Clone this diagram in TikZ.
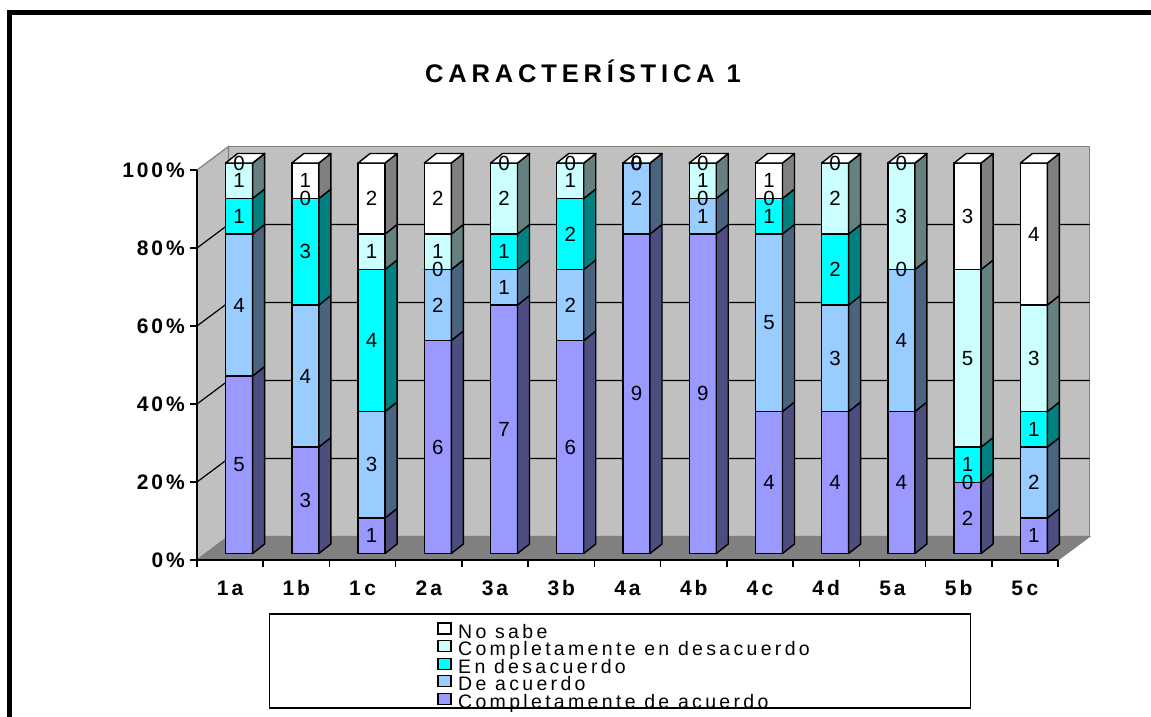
\documentclass[tikz,border=0pt]{standalone}
\usepackage{fontspec}
\setmainfont{Liberation Sans}
\newfontfamily\weitfont[LetterSpace=14]{Liberation Sans}
\newfontfamily\titelfont[LetterSpace=19]{Liberation Sans}
\newfontfamily\legfont[LetterSpace=17]{Liberation Sans}
\usetikzlibrary{calc}
\usetikzlibrary{positioning}

\definecolor{wand}{HTML}{C0C0C0}
\definecolor{boden}{HTML}{808080}
\definecolor{cda}{HTML}{9999FF}
\definecolor{cdaS}{HTML}{4D4D80}
\definecolor{da}{HTML}{99CCFF}
\definecolor{daS}{HTML}{4A6480}
\definecolor{ed}{HTML}{00FFFF}
\definecolor{edS}{HTML}{008080}
\definecolor{ced}{HTML}{CCFFFF}
\definecolor{cedS}{HTML}{668080}
\definecolor{ns}{HTML}{FFFFFF}
\definecolor{nsS}{HTML}{808080}

\tikzset{
  balken/.style={draw=black,line width=1.4pt,line join=round},
  wert/.style={inner sep=0pt,font=\fontsize{20.5}{20.5}\selectfont},
  achse/.style={inner sep=0pt,font=\weitfont\bfseries\fontsize{21}{21}\selectfont},
  leg/.style={inner sep=0pt,font=\legfont\fontsize{19.5}{19.5}\selectfont},
}

\begin{document}
\begin{tikzpicture}[x=1pt,y=-1pt]
     \useasboundingbox (0,0) rectangle (1151,716);
     % Rahmen
     \draw[line width=5pt] (9.5,740) -- (9.5,12.5) -- (1175,12.5);
     \node[font=\titelfont\bfseries\fontsize{25.5}{25.5}\selectfont,anchor=base] (titel) at (583,82) {CARACTERÍSTICA 1};

     % Waende und Boden
     \filldraw[fill=wand,draw=boden,line width=1.2pt] (228.5,146.5) rectangle (1089.5,536.5);
     \filldraw[fill=wand,draw=boden,line width=1.2pt] (197,170) -- (228.5,146.5) -- (228.5,536.5) -- (197,560) -- cycle;
     \filldraw[fill=boden,draw=boden,line width=1.2pt] (197,560) -- (228.5,536.5) -- (1089.5,536.5) -- (1058,560) -- cycle;

     % Koordinatensystem
     \foreach \k in {1,...,4}
       \draw[line width=1.2pt] (197,560-78*\k) -- (228.5,536.5-78*\k) -- (1089.5,536.5-78*\k);
     \draw[line width=1.5pt] (197,170) -- (197,560) -- (1058,560);
     \foreach \p [count=\k from 0] in {0,20,40,60,80,100}
     {
       \draw[line width=1.5pt] (197,560-78*\k) -- (190,560-78*\k);
       \node[achse,anchor=east] (y\k) at (185,560-78*\k) {\p\%};
     }
     \foreach \k in {0,...,13}
       \draw[line width=1.5pt] (197+66.23*\k,560) -- (197+66.23*\k,567);

     % Balken
     \foreach \lab/\a/\b/\c/\d/\e [count=\i from 0] in {1a/5/4/1/1/0,1b/3/4/3/0/1,1\,c/1/3/4/1/2,2a/6/2/0/1/2,3a/7/1/1/2/0,3b/6/2/2/1/0,4a/9/2/0/0/0,4b/9/1/0/1/0,4\,c/4/5/1/0/1,4d/4/3/2/2/0,5a/4/4/0/3/0,5b/2/0/1/5/3,5\,c/1/2/1/3/4}
     {
       \pgfmathsetmacro\xm{197+66.23*(\i+0.5)}
       \pgfmathsetmacro\xl{\xm-4.5}
       \pgfmathsetmacro\xr{\xm+22.5}
       \node[achse] (x\i) at (\xm,588) {\lab};
       \foreach \lo/\n/\f/\s in {0/\a/cda/cdaS,\a/\b/da/daS,\a+\b/\c/ed/edS,\a+\b+\c/\d/ced/cedS,\a+\b+\c+\d/\e/ns/nsS}
       {
         \pgfmathsetmacro\yu{553.5-35.5*(\lo)}
         \pgfmathsetmacro\yo{\yu-35.5*\n}
         \filldraw[balken,fill=\f] (\xl,\yu) rectangle (\xr,\yo);
         \filldraw[balken,fill=\s] (\xr,\yu) -- (\xr+12,\yu-9.5) -- (\xr+12,\yo-9.5) -- (\xr,\yo) -- cycle;
       }
       \filldraw[balken,fill=ns] (\xl,163) -- (\xr,163) -- (\xr+12,153.5) -- (\xl+12,153.5) -- cycle;
       \foreach \lo/\n/\f in {0/\a/cda,\a/\b/da,\a+\b/\c/ed,\a+\b+\c/\d/ced,\a+\b+\c+\d/\e/ns}
       {
         \pgfmathsetmacro\yw{553.5-35.5*(\lo)-17.75*\n}
         \node[wert] (w\i-\f) at (\xm+9,\yw) {\n};
       }
     }

     % Legende
     \foreach \t/\f [count=\k from 0] in {No sabe/ns,Completamente en desacuerdo/ced,En desacuerdo/ed,De acuerdo/da,Completamente de acuerdo/cda}
     {
       \filldraw[draw=black,line width=1.2pt,fill=\f] (438,623+17.6*\k) rectangle (451,634+17.6*\k);
       \node[leg,anchor=base west] (l\k) at (458,638+17.6*\k) {\t};
     }
     \draw[line width=1.5pt] (269.5,614) rectangle (970.5,708);
\end{tikzpicture}
\end{document}
